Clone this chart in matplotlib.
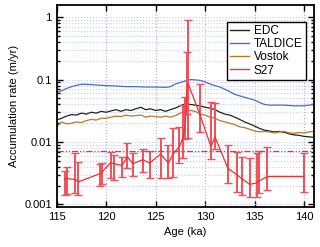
import numpy as np
import matplotlib
matplotlib.use("Agg")
import matplotlib.pyplot as plt
from matplotlib.lines import Line2D
from matplotlib.ticker import LogLocator, FixedLocator, NullFormatter

plt.rcParams['font.family'] = ['Liberation Sans', 'DejaVu Sans']

# EDC / Vostok (0.5 ka steps)
age_ice = [115.0, 115.5, 116.0, 116.5, 117.0, 117.5, 118.0, 118.5, 119.0, 119.5,
           120.0, 120.5, 121.0, 121.5, 122.0, 122.5, 123.0, 123.5, 124.0, 124.5,
           125.0, 125.5, 126.0, 126.5, 127.0, 127.5, 128.0, 128.5, 129.0, 129.5,
           130.0, 130.5, 131.0, 131.5, 132.0, 132.5, 133.0, 133.5, 134.0, 134.5,
           135.0, 135.5, 136.0, 136.5, 137.0, 137.5, 138.0, 138.5, 139.0, 139.5,
           140.0, 140.5, 141.0]
acc_edc = [0.0225, 0.024, 0.026, 0.0275, 0.027, 0.029, 0.028, 0.030, 0.029, 0.031,
           0.030, 0.0315, 0.033, 0.031, 0.033, 0.032, 0.034, 0.036, 0.033, 0.034,
           0.032, 0.033, 0.031, 0.033, 0.035, 0.038, 0.041, 0.040, 0.039, 0.038,
           0.036, 0.035, 0.033, 0.030, 0.028, 0.027, 0.025, 0.023, 0.021, 0.0195,
           0.018, 0.0165, 0.0155, 0.015, 0.0145, 0.0148, 0.0143, 0.0135, 0.013, 0.0128,
           0.0123, 0.0121, 0.0119]
acc_vostok = [0.0175, 0.021, 0.0195, 0.020, 0.021, 0.0205, 0.022, 0.023, 0.0225, 0.024,
              0.024, 0.025, 0.026, 0.0255, 0.027, 0.026, 0.0265, 0.027, 0.025, 0.026,
              0.0255, 0.025, 0.026, 0.025, 0.0265, 0.029, 0.031, 0.032, 0.031, 0.028,
              0.027, 0.025, 0.024, 0.022, 0.021, 0.020, 0.019, 0.0175, 0.017, 0.016,
              0.015, 0.0145, 0.0148, 0.0145, 0.014, 0.0145, 0.0148, 0.014, 0.0138, 0.0142,
              0.014, 0.0145, 0.0148]

age_tal = [115, 115.5, 116, 116.5, 117, 117.5, 118, 119, 120, 121, 122, 123, 124, 125,
           126, 126.5, 127, 127.5, 128, 128.5, 129, 129.5, 130, 130.5, 131, 131.5, 132,
           132.5, 133, 134, 135, 135.5, 136, 136.5, 137, 138, 139, 140, 141]
acc_tal = [0.062, 0.066, 0.072, 0.077, 0.081, 0.084, 0.084, 0.082, 0.080, 0.079, 0.077,
           0.077, 0.076, 0.076, 0.075, 0.077, 0.085, 0.090, 0.095, 0.100, 0.099, 0.097,
           0.092, 0.085, 0.080, 0.076, 0.070, 0.064, 0.058, 0.052, 0.047, 0.043, 0.040,
           0.039, 0.039, 0.039, 0.038, 0.038, 0.040]

# S27 samples with lower/upper bounds
age_s27 = [115.8, 116.0, 116.9, 117.2, 119.35, 119.6, 120.45, 120.75, 121.6, 122.15,
           122.7, 123.7, 124.4, 125.5, 126.3, 126.8, 127.4, 127.8, 128.0, 128.2,
           128.3, 129.5, 130.6, 131.0, 132.3, 133.2, 133.7, 134.5, 135.2, 135.5,
           136.3, 140.0]
acc_s27 = [0.0025, 0.0026, 0.0025, 0.0023, 0.0031, 0.0033, 0.0047, 0.0045, 0.0042, 0.0058,
           0.0045, 0.0052, 0.0046, 0.0064, 0.0046, 0.0066, 0.0084, 0.012, 0.020, 0.085,
           0.085, 0.027, 0.0084, 0.0121, 0.0038, 0.0030, 0.0026, 0.0021, 0.0022, 0.0024,
           0.0028, 0.0028]
lo_s27 = [0.0014, 0.00146, 0.0015, 0.0014, 0.002, 0.0021, 0.0027, 0.0025, 0.0028, 0.0039,
          0.0029, 0.0033, 0.0027, 0.0027, 0.0027, 0.0028, 0.0046, 0.0055, 0.011, 0.028,
          0.0115, 0.0145, 0.0053, 0.0076, 0.0022, 0.0016, 0.0014, 0.0013, 0.0013, 0.0015,
          0.0017, 0.0016]
hi_s27 = [0.0034, 0.0040, 0.0066, 0.0047, 0.0044, 0.0046, 0.0068, 0.0062, 0.0058, 0.0097,
          0.0066, 0.0078, 0.0072, 0.0114, 0.0089, 0.017, 0.0175, 0.039, 0.053, 0.28,
          0.9, 0.085, 0.043, 0.042, 0.0089, 0.0070, 0.0058, 0.0055, 0.0066, 0.0072,
          0.0084, 0.0066]
s27_ref = 0.0073

RED = '#f03035'

fig = plt.figure(figsize=(3.2, 2.47), dpi=100)
ax = fig.add_axes([0.177, 0.162, 0.804, 0.818])

ax.plot(age_ice, acc_edc, color='#222222', lw=0.9)
ax.plot(age_tal, acc_tal, color='#4a6cc8', lw=0.9)
ax.plot(age_ice, acc_vostok, color='#b5782c', lw=0.9)
acc = np.array(acc_s27)
yerr = [acc - np.array(lo_s27), np.array(hi_s27) - acc]
ax.errorbar(age_s27, acc_s27, yerr=yerr, color=RED, ecolor='#f2505a', lw=0.9,
            elinewidth=1.4, capsize=2.8, capthick=1.0)
ax.axhline(s27_ref, color=RED, lw=0.9, ls=(0, (5, 1.5, 1, 1.5, 1, 1.5)))

ax.set_yscale('log')
ax.set_xlim(115, 141)
ax.set_ylim(0.00091, 1.57)
ax.xaxis.set_major_locator(FixedLocator([115, 120, 125, 130, 135, 140]))
ax.yaxis.set_major_locator(FixedLocator([0.001, 0.01, 0.1, 1]))
ax.set_yticklabels(['0.001', '0.01', '0.1', '1'])
ax.yaxis.set_minor_locator(LogLocator(base=10, subs=np.arange(2, 10)))
ax.yaxis.set_minor_formatter(NullFormatter())

ax.tick_params(which='both', direction='in', top=True, right=True, labelsize=8, width=1)
ax.tick_params(which='major', length=4)
ax.tick_params(which='minor', length=2.5)
ax.grid(True, axis='x', which='major', color='#a8aee0', ls=':', lw=0.8)
ax.grid(True, axis='y', which='both', color='#c8ccec', ls=':', lw=0.8)
for s in ax.spines.values():
    s.set_linewidth(1.3)

ax.set_xlabel('Age (ka)', fontsize=8)
ax.set_ylabel('Accumulation rate (m/yr)', fontsize=8)

handles = [Line2D([], [], color='#222222', lw=1.0),
           Line2D([], [], color='#4a6cc8', lw=1.0),
           Line2D([], [], color='#b5782c', lw=1.0),
           Line2D([], [], color=RED, lw=1.0)]
labels = ['EDC', 'TALDICE', 'Vostok', 'S27']
leg = ax.legend(handles, labels, loc='upper right', bbox_to_anchor=(0.968, 0.915),
                fontsize=8.5, fancybox=False, framealpha=1, edgecolor='black',
                handlelength=1.6, borderpad=0.25, labelspacing=0.1, handletextpad=0.4,
                borderaxespad=0)
leg.get_frame().set_linewidth(1.0)

fig.savefig('out.png', dpi=100)
